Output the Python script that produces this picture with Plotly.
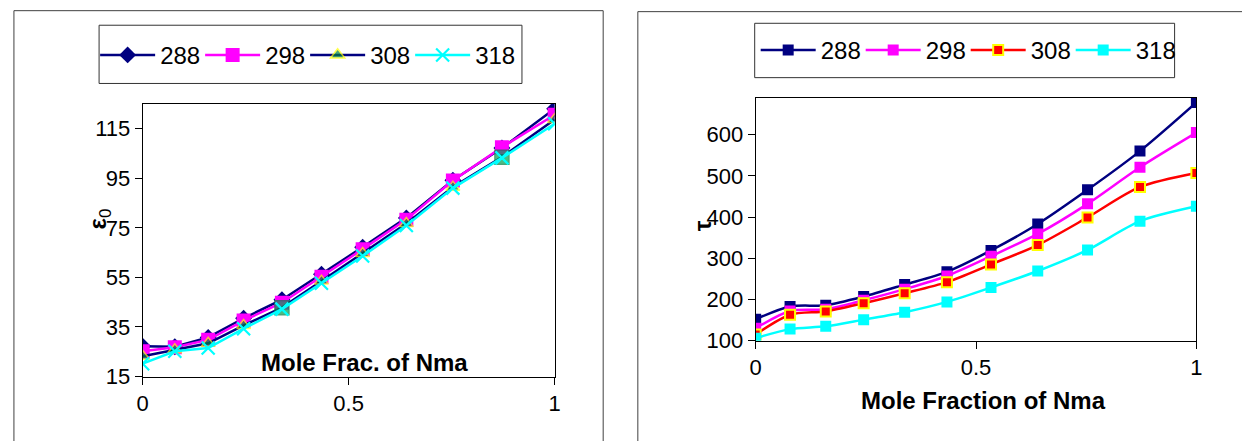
import plotly.graph_objects as go

W, H = 1242, 441

# ---------------- data ----------------
mole_frac = [0, 0.078, 0.159, 0.245, 0.338, 0.434, 0.534, 0.64, 0.753, 0.872, 1.0]
x_ticks = [0, 0.5, 1]
x_ticktext = ["0", "0.5", "1"]

eps_288 = [27.2, 27.0, 30.8, 38.5, 46.0, 56.3, 67.2, 79.0, 94.2, 107.2, 123.0]
eps_298 = [25.2, 26.8, 29.8, 37.6, 44.8, 55.3, 66.4, 78.3, 94.1, 107.5, 120.6]
eps_308 = [23.2, 25.8, 28.4, 35.6, 42.8, 53.5, 64.6, 76.7, 91.4, 103.5, 118.7]
eps_318 = [20.2, 25.2, 26.5, 34.3, 42.2, 52.6, 63.6, 75.9, 91.0, 103.2, 117.0]
eps_ticks = [15, 35, 55, 75, 95, 115]

tau_288 = [152, 183, 186, 207, 236, 267, 319, 383, 466, 560, 678]
tau_298 = [130, 172, 176, 198, 225, 257, 305, 359, 432, 521, 605]
tau_308 = [115, 163, 171, 191, 215, 242, 285, 332, 399, 473, 507]
tau_318 = [106, 128, 135, 151, 169, 194, 229, 269, 320, 390, 426]
tau_ticks = [100, 200, 300, 400, 500, 600]

series_names = ["288", "298", "308", "318"]

FONT = "Liberation Sans"


def px(x):
    return x / W


def py(y):
    return 1 - y / H


fig = go.Figure()

# ---------------- left chart ----------------
fig.add_trace(go.Scatter(
    x=mole_frac, y=eps_288, name=series_names[0], mode="lines+markers",
    line=dict(color="#000080", width=2.5),
    marker=dict(symbol="diamond", size=13, color="#000080"),
    xaxis="x", yaxis="y", legend="legend"))
fig.add_trace(go.Scatter(
    x=mole_frac, y=eps_298, name=series_names[1], mode="lines+markers",
    line=dict(color="#FF00FF", width=2.5),
    marker=dict(symbol="square", size=14, color="#FF00FF"),
    xaxis="x", yaxis="y", legend="legend"))
sym308 = ["triangle-up"] * len(mole_frac)
col308 = ["#008040"] * len(mole_frac)
lc308 = ["#FFFF00"] * len(mole_frac)
for i in (4, 9):
    sym308[i] = "square"
    col308[i] = "#00A050"
    lc308[i] = "#008040"
fig.add_trace(go.Scatter(
    x=mole_frac, y=eps_308, name=series_names[2], mode="lines+markers",
    line=dict(color="#000080", width=2.5),
    marker=dict(symbol=sym308, size=[12, 12, 12, 12, 14, 12, 12, 12, 12, 14, 12],
                color=col308, line=dict(color=lc308, width=1.5)),
    xaxis="x", yaxis="y", legend="legend"))
fig.add_trace(go.Scatter(
    x=mole_frac, y=eps_318, name=series_names[3], mode="lines+markers",
    line=dict(color="#00FFFF", width=2.5),
    marker=dict(symbol="x-thin", size=13, line=dict(color="#00FFFF", width=2.2)),
    xaxis="x", yaxis="y", legend="legend"))

# ---------------- right chart ----------------
right_cols = ["#000080", "#FF00FF", "#FF0000", "#00FFFF"]
right_data = [tau_288, tau_298, tau_308, tau_318]
for name, col, vals in zip(series_names, right_cols, right_data):
    if name == "308":
        mk = dict(symbol="square", size=10, color="#FF0000",
                  line=dict(color="#FFFF00", width=2))
    else:
        mk = dict(symbol="square", size=11, color=col)
    fig.add_trace(go.Scatter(
        x=mole_frac, y=vals, name=name, mode="lines+markers",
        line=dict(color=col, width=2.5, shape="spline", smoothing=0.8),
        marker=mk, xaxis="x2", yaxis="y2", legend="legend2"))

axis_common = dict(showgrid=False, zeroline=False, showline=True, mirror=True,
                   linecolor="black", linewidth=1, ticks="outside", ticklen=7,
                   tickcolor="black", tickfont=dict(family=FONT, size=22, color="black"))

legend_font = dict(family=FONT, size=24, color="black")

fig.update_layout(
    width=W, height=H, autosize=False,
    margin=dict(l=0, r=0, t=0, b=0),
    paper_bgcolor="white", plot_bgcolor="white",
    font=dict(family=FONT, color="black"),
    hovermode=False,
    xaxis=dict(domain=[px(138), px(554)], range=[0, 1], tickvals=x_ticks,
               ticktext=x_ticktext, anchor="y", **axis_common),
    yaxis=dict(domain=[py(388), py(107)], range=[15, 125], tickvals=eps_ticks,
               anchor="x", **axis_common),
    xaxis2=dict(domain=[px(757), px(1202)], range=[0, 1], tickvals=x_ticks,
                ticktext=x_ticktext, anchor="y2", **axis_common),
    yaxis2=dict(domain=[py(351), py(100.5)], range=[100, 690], tickvals=tau_ticks,
                anchor="x2", **axis_common),
    legend=dict(orientation="h", x=px(90), y=py(57), xanchor="left", yanchor="middle",
                font=legend_font, bgcolor="rgba(0,0,0,0)", itemwidth=55,
                borderwidth=0, entrywidth=35, entrywidthmode="pixels", itemclick=False),
    legend2=dict(orientation="h", x=px(757), y=py(52), xanchor="left", yanchor="middle",
                 font=legend_font, bgcolor="rgba(0,0,0,0)", itemwidth=55,
                 borderwidth=0, entrywidth=35, entrywidthmode="pixels", itemclick=False),
    showlegend=True,
)

# panel frames and legend boxes
shapes = [
    dict(type="rect", xref="paper", yref="paper", x0=px(8), x1=px(603), y0=-0.05, y1=py(11),
         line=dict(color="#404040", width=1), fillcolor="rgba(0,0,0,0)", layer="below"),
    dict(type="rect", xref="paper", yref="paper", x0=px(638), x1=1.05, y0=-0.05, y1=py(12),
         line=dict(color="#404040", width=1), fillcolor="rgba(0,0,0,0)", layer="below"),
    dict(type="rect", xref="paper", yref="paper", x0=px(94), x1=px(521), y0=py(86), y1=py(26),
         line=dict(color="#333333", width=1), fillcolor="rgba(0,0,0,0)", layer="below"),
    dict(type="rect", xref="paper", yref="paper", x0=px(756), x1=px(1180), y0=py(80), y1=py(24),
         line=dict(color="#333333", width=1), fillcolor="rgba(0,0,0,0)", layer="below"),
]
fig.update_layout(shapes=shapes)

annotations = [
    dict(text="<b>Mole Frac. of Nma</b>", xref="paper", yref="paper", x=px(362), y=py(374),
         xanchor="center", yanchor="middle", showarrow=False,
         font=dict(family=FONT, size=24, color="black")),
    dict(text="<b>Mole Fraction of Nma</b>", xref="paper", yref="paper", x=px(987), y=py(413),
         xanchor="center", yanchor="middle", showarrow=False,
         font=dict(family=FONT, size=24, color="black")),
    dict(text="<b>ε</b><sub>0</sub>", xref="paper", yref="paper", x=px(94), y=py(226),
         xanchor="center", yanchor="middle", showarrow=False, textangle=-90,
         font=dict(family=FONT, size=24, color="black")),
    dict(text="<b>τ</b>", xref="paper", yref="paper", x=px(703), y=py(233),
         xanchor="center", yanchor="middle", showarrow=False, textangle=-90,
         font=dict(family=FONT, size=24, color="black")),
]
fig.update_layout(annotations=annotations)

fig.write_html(
    "out.html",
    config={"displayModeBar": False, "staticPlot": True},
    post_script="document.body.style.margin='0';document.body.style.overflow='hidden';",
)
